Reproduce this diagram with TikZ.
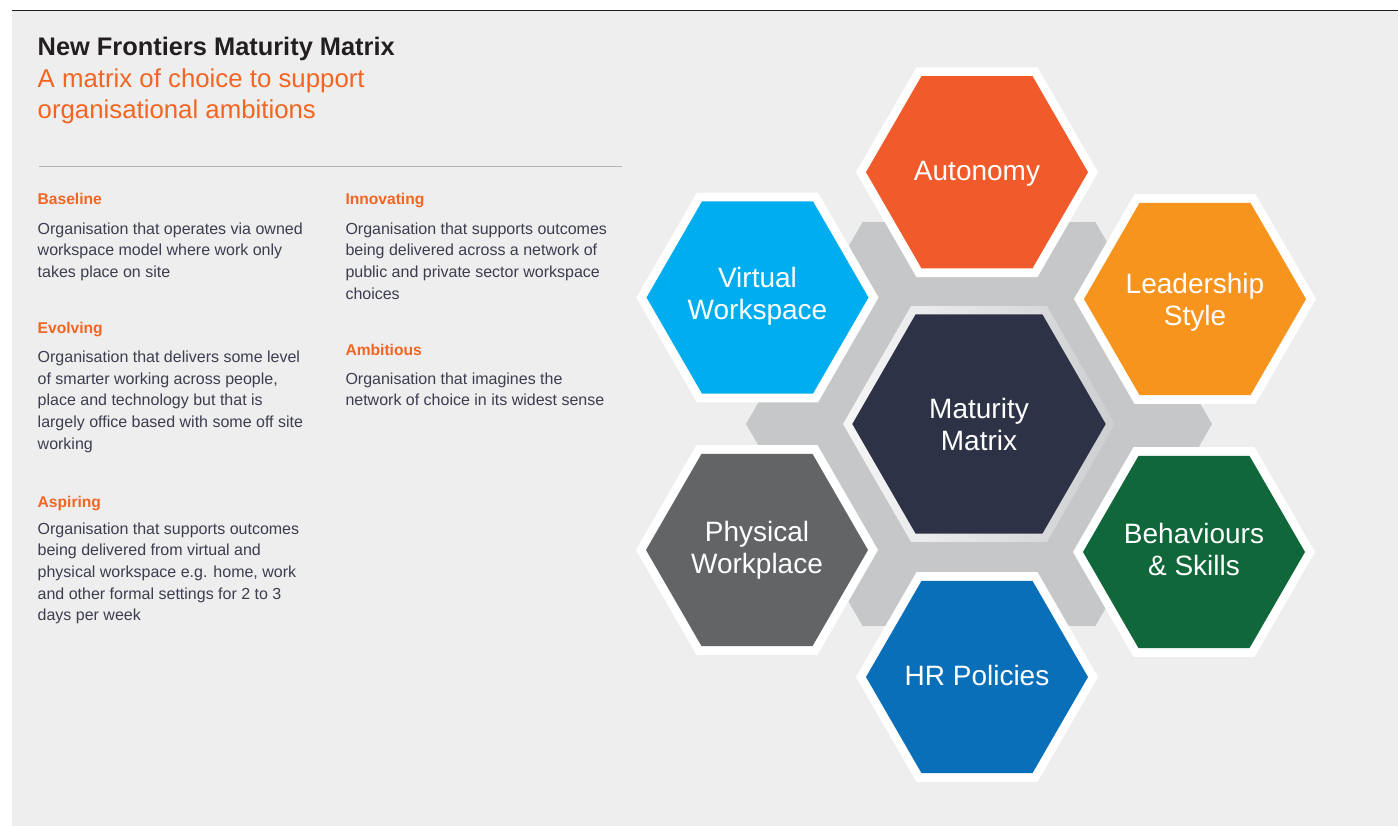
\documentclass[tikz,border=0pt]{standalone}
\usepackage{fontspec}
\setmainfont{Liberation Sans}
\usetikzlibrary{shapes.geometric,calc}

\definecolor{pagebg}{HTML}{EEEEEE}
\definecolor{titleink}{HTML}{231F20}
\definecolor{accent}{HTML}{F26522}
\definecolor{bodyink}{HTML}{3C3E4F}
\definecolor{ruleink}{HTML}{B5B5B5}
\definecolor{framegray}{HTML}{C6C7C9}
\definecolor{rimlight}{HTML}{F6F6F7}
\definecolor{rimdark}{HTML}{CDCED0}
\definecolor{navy}{HTML}{2E3247}
\definecolor{autoorange}{HTML}{F15A2B}
\definecolor{leadorange}{HTML}{F7941E}
\definecolor{virtcyan}{HTML}{00AEEF}
\definecolor{physgray}{HTML}{636466}
\definecolor{behgreen}{HTML}{10673A}
\definecolor{hrblue}{HTML}{0A6FB9}

\newcommand{\bodytext}{\fontsize{16}{21.65}\selectfont}
\newcommand{\headtext}{\fontsize{15.6}{18}\selectfont\bfseries}
% centred cell caption whose reference point is the first baseline
\newcommand{\cellcaption}[1]{\parbox[t]{220pt}{\centering #1}}

\begin{document}
\begin{tikzpicture}[x=1pt,y=-1pt,
  hexbase/.style={regular polygon, regular polygon sides=6, inner sep=0pt, outer sep=0pt},
  cell/.style={hexbase, minimum size=222pt,
    preaction={draw=white, line width=17.4pt}},
  caption/.style={anchor=base, inner sep=0pt, text=white,
    font=\fontsize{28}{32.4}\selectfont},
  heading/.style={anchor=base west, inner sep=0pt, text=accent, font=\headtext},
  para/.style={anchor=base west, inner sep=0pt, text=bodyink, font=\bodytext},
]
\useasboundingbox (0,0) rectangle (1398,826);

% page and panel
\fill[white] (0,0) rectangle (1398,826);
\fill[pagebg] (12.3,10.3) rectangle (1398,826);
\draw[titleink, line width=1.2pt] (12.3,10.3) -- (1398,10.3);

% title block
\node[anchor=base west, inner sep=0pt, text=titleink,
      font=\fontsize{25.4}{30}\selectfont\bfseries] (title) at (37.5,56)
  {New Frontiers Maturity Matrix};
\node[anchor=base west, inner sep=0pt, text=accent] (subtitle) at (37.5,87.7)
  {\parbox[t]{400pt}{\fontsize{25.8}{31.3}\selectfont\raggedright
   A matrix of choice to support\\organisational ambitions}};
\draw[ruleink, line width=1.5pt] (39,166.3) -- (622,166.3);

% maturity levels, first column
\node[heading] (hbase) at (37.5,205) {Baseline};
\node[para] (tbase) at (37.5,234.3) {\parbox[t]{300pt}{\raggedright
  Organisation that operates via owned\\
  workspace model where work only\\
  takes place on site}};

\node[heading] (hevol) at (37.5,334) {Evolving};
\node[para] (tevol) at (37.5,362.7) {\parbox[t]{300pt}{\raggedright
  Organisation that delivers some level\\
  of smarter working across people,\\
  place and technology but that is\\
  largely office based with some off site\\
  working}};

\node[heading] (hasp) at (37.5,507.3) {Aspiring};
\node[para] (tasp) at (37.5,534.3) {\parbox[t]{300pt}{\raggedright
  Organisation that supports outcomes\\
  being delivered from virtual and\\
  physical workspace e.g. home, work\\
  and other formal settings for 2 to 3\\
  days per week}};

% maturity levels, second column
\node[heading] (hinno) at (345.3,205) {Innovating};
\node[para] (tinno) at (345.3,234.3) {\parbox[t]{300pt}{\raggedright
  Organisation that supports outcomes\\
  being delivered across a network of\\
  public and private sector workspace\\
  choices}};

\node[heading] (hamb) at (345.3,355.7) {Ambitious};
\node[para] (tamb) at (345.3,384.3) {\parbox[t]{300pt}{\raggedright
  Organisation that imagines the\\
  network of choice in its widest sense}};

% honeycomb: grey frame, centre cell with its rim, six outer cells
\node[hexbase, minimum size=466pt, fill=framegray] (frame) at (979,424) {};
\node[hexbase, minimum size=272pt, left color=rimlight, right color=rimdark] (rim) at (979,424) {};
\node[hexbase, minimum size=253.4pt, fill=navy] (core) at (979,424) {};

\node[cell, fill=autoorange] (autonomy) at (977,172.2) {};
\node[cell, fill=virtcyan] (virtual) at (757.5,297.5) {};
\node[cell, fill=leadorange] (leadership) at (1195,299) {};
\node[cell, fill=physgray] (physical) at (757,550) {};
\node[cell, fill=behgreen] (behaviours) at (1194,552) {};
\node[cell, fill=hrblue] (hr) at (977,677) {};

% captions, placed by their first baseline
\node[caption] (core-text) at ($(core)+(0,-5.4)$) {\cellcaption{Maturity\\Matrix}};
\node[caption] (autonomy-text) at ($(autonomy)+(0,8.5)$) {\cellcaption{Autonomy}};
\node[caption] (virtual-text) at ($(virtual)+(0,-10)$) {\cellcaption{Virtual\\Workspace}};
\node[caption] (leadership-text) at ($(leadership)+(0,-5.5)$) {\cellcaption{Leadership\\Style}};
\node[caption] (physical-text) at ($(physical)+(0,-8.8)$) {\cellcaption{Physical\\Workplace}};
\node[caption] (behaviours-text) at ($(behaviours)+(0,-8.5)$) {\cellcaption{Behaviours\\\& Skills}};
\node[caption] (hr-text) at ($(hr)+(0,8)$) {\cellcaption{HR Policies}};
\end{tikzpicture}
\end{document}
